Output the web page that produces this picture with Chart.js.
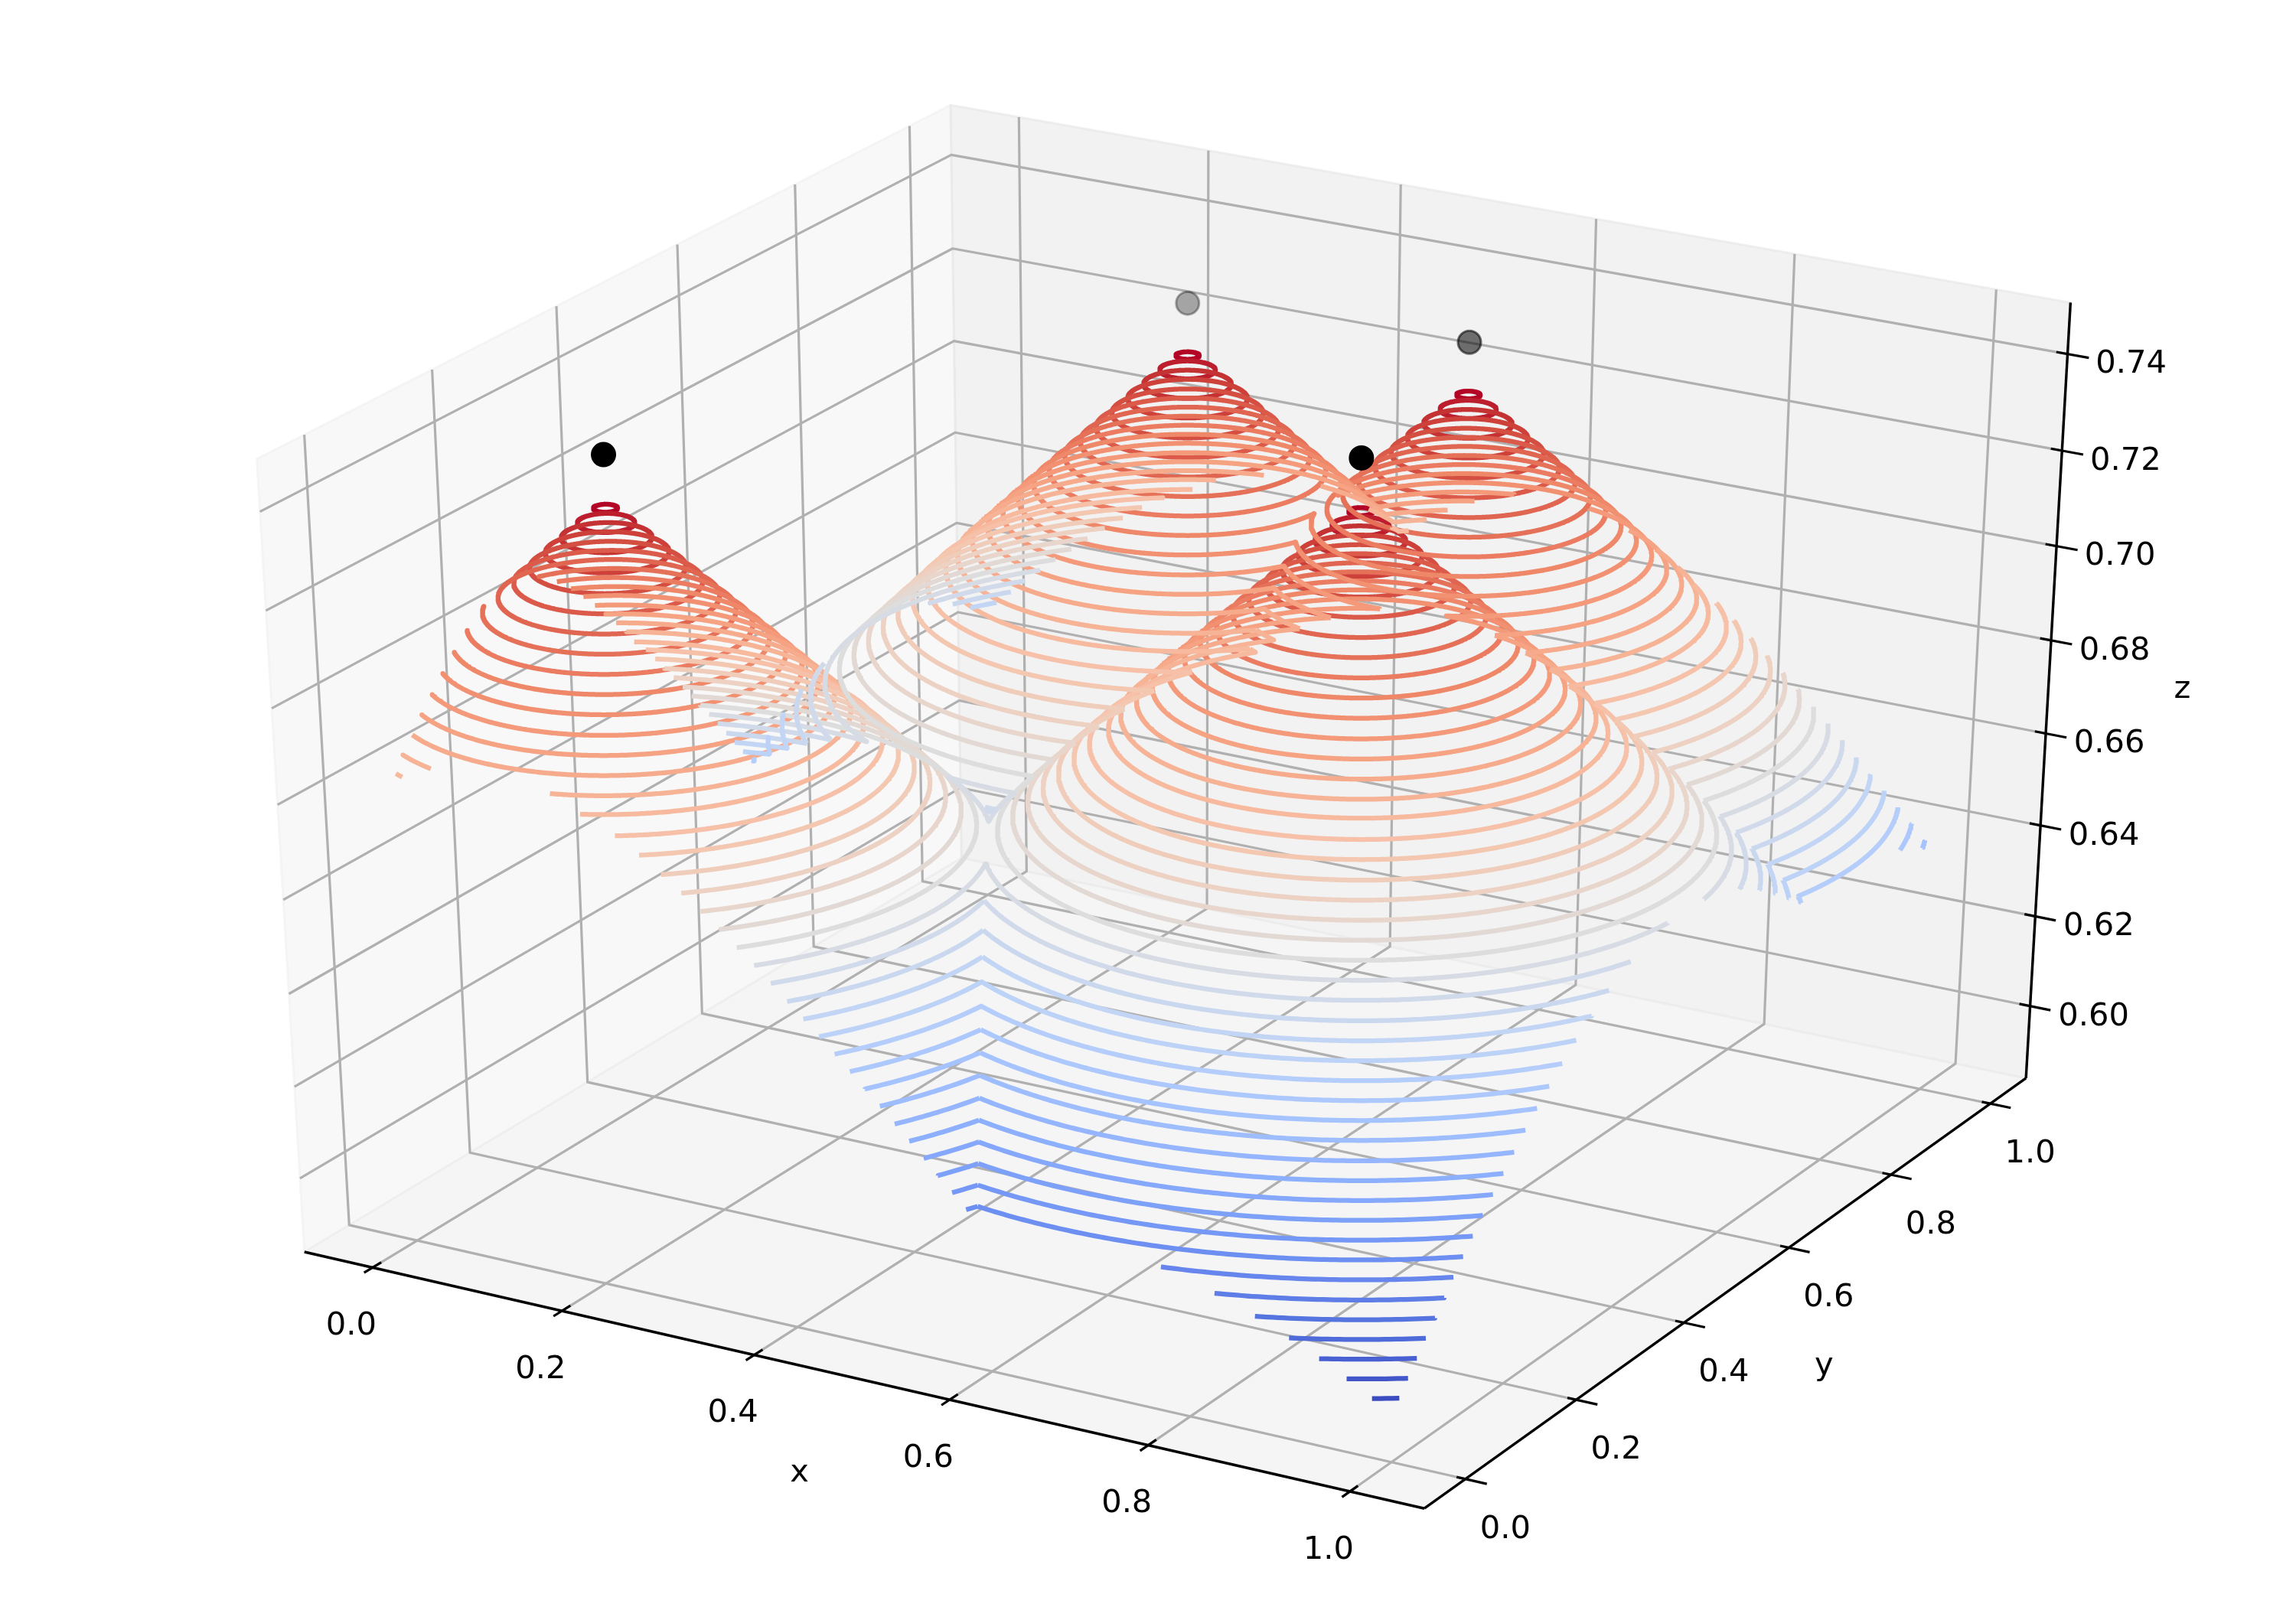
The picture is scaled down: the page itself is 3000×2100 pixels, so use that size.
<!DOCTYPE html>
<html><head><meta charset="utf-8">
<style>html,body{margin:0;padding:0;background:#fff}canvas{display:block}</style>
<script src="https://cdn.jsdelivr.net/npm/chart.js@4"></script>
</head><body><canvas id="c" width="3000" height="2100"></canvas>
<script>
const xTicks=[0,0.2,0.4,0.6,0.8,1.0];
const yTicks=[0,0.2,0.4,0.6,0.8,1.0];
const zTicks=[0.60,0.62,0.64,0.66,0.68,0.70,0.72,0.74];
const xLim=[-0.05,1.05], yLim=[-0.05,1.05], zLim=[0.5871,0.7472];
const peakX=[0.101,0.331,0.601,0.671];
const peakY=[0.199,0.808,0.838,0.518];
const peakZ=[0.74,0.74,0.74,0.74];
const peakAlpha=[1,0.32,0.55,1];
const contourLevels=[0.7291,0.7261,0.7231,0.7201,0.7170,0.7140,0.7110,0.7080,0.7050,0.7020,0.6990,0.6959,0.6929,0.6899,0.6869,0.6839,0.6809,0.6779,0.6748,0.6718,0.6688,0.6658,0.6628,0.6598,0.6568,0.6537,0.6507,0.6477,0.6447,0.6417,0.6387,0.6357,0.6326,0.6296,0.6266,0.6236,0.6206,0.6176,0.6146,0.6115,0.6085,0.6055,0.6025,0.5995,0.5965];
const contourRadii=[0.0105,0.0249,0.0393,0.0536,0.0678,0.0821,0.0963,0.1104,0.1245,0.1385,0.1526,0.1666,0.1805,0.1943,0.2082,0.2190,0.2357,0.2494,0.2631,0.2767,0.2903,0.3038,0.3173,0.3308,0.3442,0.3575,0.3709,0.3841,0.3974,0.4106,0.4237,0.4368,0.4499,0.4629,0.4759,0.4888,0.5017,0.5145,0.5275,0.5401,0.5528,0.5655,0.5781,0.5907,0.6032];
const coolwarm=[[59,76,192],[68,90,204],[77,104,215],[87,117,225],[98,130,234],[108,142,241],[119,154,247],[130,165,251],[141,176,254],[152,185,255],[163,194,255],[174,201,253],[184,208,249],[194,213,244],[204,217,238],[213,219,230],[221,221,221],[229,216,209],[236,211,197],[241,204,185],[245,196,173],[247,187,160],[247,177,148],[247,166,135],[244,154,123],[241,141,111],[236,127,99],[229,112,88],[222,96,77],[213,80,66],[203,62,56],[192,40,47],[180,4,38]];

// view: elevation 30, azimuth -60, camera distance 10, unit cube
const U=[0.8660254,0.5,0], V=[-0.25,0.4330127,0.8660254], W=[0.4330127,-0.75,0.5], DIST=10;
function cube(x,y,z){return [(x-xLim[0])/(xLim[1]-xLim[0])-0.5,(y-yLim[0])/(yLim[1]-yLim[0])-0.5,(z-zLim[0])/(zLim[1]-zLim[0])-0.5];}
const dot=(a,b)=>a[0]*b[0]+a[1]*b[1]+a[2]*b[2];
function proj3(d){const D=DIST-dot(W,d);return {x:dot(U,d)/D,y:dot(V,d)/D};}
function project(x,y,z){return proj3(cube(x,y,z));}
const PAD=1/48;
const bx=[xLim[0]-(xLim[1]-xLim[0])*PAD,xLim[1]+(xLim[1]-xLim[0])*PAD];
const by=[yLim[0]-(yLim[1]-yLim[0])*PAD,yLim[1]+(yLim[1]-yLim[0])*PAD];
const bz=[zLim[0]-(zLim[1]-zLim[0])*PAD,zLim[1]+(zLim[1]-zLim[0])*PAD];

function levelColor(v){
  const lo=contourLevels[contourLevels.length-1],hi=contourLevels[0];
  const t=(v-lo)/(hi-lo)*(coolwarm.length-1),i=Math.min(Math.floor(t),coolwarm.length-2),f=t-i;
  const c=coolwarm[i].map((q,k)=>Math.round(q+(coolwarm[i+1][k]-q)*f));
  return `rgb(${c[0]},${c[1]},${c[2]})`;
}
function owned(p,x,y){
  if(x<0||x>1||y<0||y>1) return false;
  const d=(x-peakX[p])**2+(y-peakY[p])**2;
  for(let q=0;q<peakX.length;q++){ if(q!==p && (x-peakX[q])**2+(y-peakY[q])**2<d) return false; }
  return true;
}
function ringRuns(p,r){
  const N=720,STEP=2*Math.PI/N;
  const at=a=>[peakX[p]+r*Math.cos(a),peakY[p]+r*Math.sin(a)];
  const isIn=a=>{const q=at(a);return owned(p,q[0],q[1]);};
  const edge=(inA,outA)=>{for(let n=0;n<14;n++){const m=(inA+outA)/2;if(isIn(m))inA=m;else outA=m;}return at(inA);};
  const ok=[];for(let i=0;i<N;i++)ok.push(isIn(i*STEP));
  const start=ok.indexOf(false);
  if(start<0){const all=[];for(let i=0;i<=N;i++)all.push(at(i*STEP));return [all];}
  const runs=[];let cur=null;
  for(let k=1;k<=N;k++){
    const i=(start+k)%N,a=(start+k)*STEP;
    if(ok[i]){
      if(!cur)cur=[edge(a,a-STEP)];
      cur.push(at(a));
    }else if(cur){
      cur.push(edge(a-STEP,a));runs.push(cur);cur=null;
    }
  }
  return runs;
}
const paint=[];
function poly(points,color,width,extra){paint.push(Object.assign({data:points,showLine:true,pointRadius:0,borderColor:color,borderWidth:width,borderCapStyle:'butt',borderJoinStyle:'round',fill:false,tension:0},extra||{}));}
// panes
poly([project(bx[0],by[0],bz[0]),project(bx[0],by[1],bz[0]),project(bx[0],by[1],bz[1]),project(bx[0],by[0],bz[1]),project(bx[0],by[0],bz[0])],'rgba(240,240,240,0.6)',3,{fill:'shape',backgroundColor:'rgba(242,242,242,0.5)'});
poly([project(bx[0],by[1],bz[0]),project(bx[1],by[1],bz[0]),project(bx[1],by[1],bz[1]),project(bx[0],by[1],bz[1]),project(bx[0],by[1],bz[0])],'rgba(230,230,230,0.6)',3,{fill:'shape',backgroundColor:'rgba(230,230,230,0.5)'});
poly([project(bx[0],by[0],bz[0]),project(bx[1],by[0],bz[0]),project(bx[1],by[1],bz[0]),project(bx[0],by[1],bz[0]),project(bx[0],by[0],bz[0])],'rgba(236,236,236,0.6)',3,{fill:'shape',backgroundColor:'rgba(236,236,236,0.5)'});
// grid
const GRID='#b0b0b0',GW=3.2;
xTicks.forEach(t=>poly([project(t,by[0],bz[0]),project(t,by[1],bz[0]),project(t,by[1],bz[1])],GRID,GW));
yTicks.forEach(t=>poly([project(bx[1],t,bz[0]),project(bx[0],t,bz[0]),project(bx[0],t,bz[1])],GRID,GW));
zTicks.forEach(t=>poly([project(bx[1],by[1],t),project(bx[0],by[1],t),project(bx[0],by[0],t)],GRID,GW));
// axis lines and ticks
const AX='#000',AW=3.4,TW=3.2;
poly([project(bx[0],by[0],bz[0]),project(bx[1],by[0],bz[0])],AX,AW);
poly([project(bx[1],by[0],bz[0]),project(bx[1],by[1],bz[0])],AX,AW);
poly([project(bx[1],by[1],bz[0]),project(bx[1],by[1],bz[1])],AX,AW);
const dy=yLim[1]-yLim[0],dx=xLim[1]-xLim[0];
xTicks.forEach(t=>poly([project(t,by[0]+0.0127*dy,bz[0]),project(t,by[0]-0.0127*dy,bz[0])],AX,TW));
yTicks.forEach(t=>poly([project(bx[1]-0.008*dx,t,bz[0]),project(bx[1]+0.019*dx,t,bz[0])],AX,TW));
zTicks.forEach(t=>poly([project(bx[1]-0.01*dx,by[1],t),project(bx[1]+0.019*dx,by[1],t)],AX,TW));
// contours: highest level painted first, lowest on top
contourLevels.forEach((lv,i)=>{
  const col=levelColor(lv);
  peakX.forEach((_,p)=>{
    ringRuns(p,contourRadii[i]).forEach(run=>{
      if(run.length>1) poly(run.map(q=>project(q[0],q[1],lv)),col,6.25);
    });
  });
});
// scatter points
peakX.forEach((x,i)=>{
  paint.push({data:[project(x,peakY[i],peakZ[i])],showLine:false,pointRadius:15,pointBorderWidth:3,
    pointBackgroundColor:`rgba(0,0,0,${peakAlpha[i]})`,pointBorderColor:`rgba(0,0,0,${peakAlpha[i]})`});
});
const textPlugin={id:'axisText',afterDraw(ch){
  const c=ch.ctx,sx=ch.scales.x,sy=ch.scales.y;
  const at=(p,dx,dy,s)=>{c.fillText(s,sx.getPixelForValue(p.x)+dx,sy.getPixelForValue(p.y)+dy);};
  c.save();c.fillStyle='#000';c.font='41.67px "DejaVu Sans"';c.textAlign='center';c.textBaseline='middle';
  xTicks.forEach(t=>at(project(t,by[0],bz[0]),-28,77,t.toFixed(1)));
  yTicks.forEach(t=>at(project(bx[1],t,bz[0]),52,66,t.toFixed(1)));
  zTicks.forEach(t=>at(project(bx[1],by[1],t),83,14,t.toFixed(2)));
  at(project(0.5,by[0],bz[0]),-68,125,'x');
  at(project(bx[1],0.5,bz[0]),114,106,'y');
  at(project(bx[1],by[1],(zLim[0]+zLim[1])/2),176,-14,'z');
  c.restore();
}};
new Chart(document.getElementById('c'),{
  type:'scatter',
  data:{datasets:paint.slice().reverse()},
  options:{responsive:false,animation:false,devicePixelRatio:1,
    layout:{padding:0,autoPadding:false},
    plugins:{legend:{display:false},tooltip:{enabled:false},title:{display:false}},
    events:[],
    scales:{x:{type:'linear',min:-0.095,max:0.09,display:false},y:{type:'linear',min:-0.095,max:0.09,display:false}}
  },
  plugins:[textPlugin]
});
</script></body></html>
